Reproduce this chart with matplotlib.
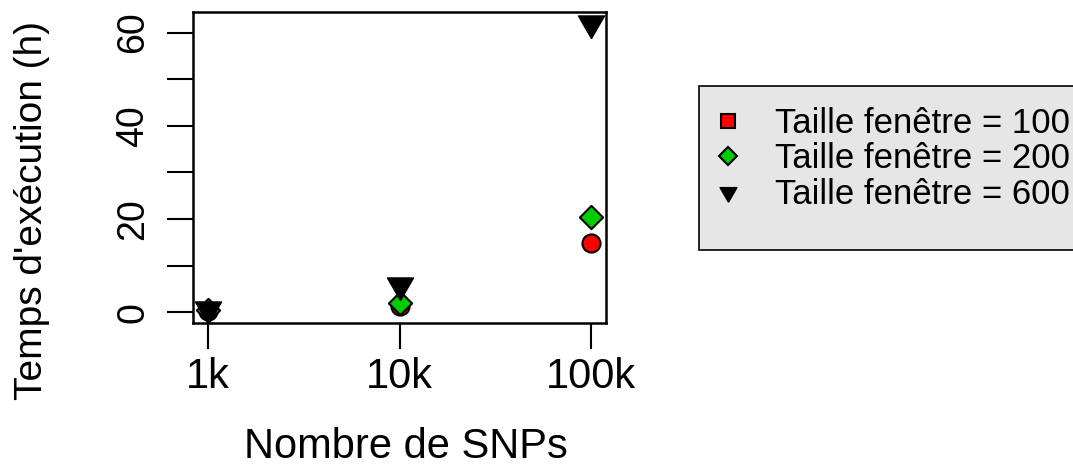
import matplotlib
matplotlib.use('Agg')

import numpy as np
import matplotlib.pyplot as plt
from matplotlib.lines import Line2D
from matplotlib.patches import Rectangle

plt.rcParams['font.family'] = ['Liberation Sans', 'DejaVu Sans']

# Data
snps = [1000, 10000, 100000]
tick_labels = ["1k", "10k", "100k"]
t_100 = [0.2, 1.3, 14.9]
t_200 = [0.4, 2.0, 20.4]
t_600 = [0.6, 5.8, 62.0]
series_labels = ["Taille fenêtre = 100", "Taille fenêtre = 200", "Taille fenêtre = 600"]

W, H = 1073, 468
fig = plt.figure(figsize=(W / 100, H / 100), dpi=100)
ax_l, ax_r, ax_t, ax_b = 193, 606, 11.7, 322.7
ax = fig.add_axes([ax_l / W, 1 - ax_b / H, (ax_r - ax_l) / W, (ax_b - ax_t) / H])

# down triangle centred like R's pch 25 (circumcentre)
tri_down = [(0, -1), (-0.866, 0.5), (0.866, 0.5), (0, -1)]

ax.scatter(snps, t_100, marker='o', s=170, c='#ff0000', edgecolors='black', linewidths=1.5, zorder=3)
ax.scatter(snps, t_200, marker='D', s=140, c='#00cd00', edgecolors='black', linewidths=1.5, zorder=4)
ax.scatter(snps, t_600, marker=tri_down, s=470, c='black', edgecolors='black', linewidths=1.0, zorder=5)

# R style 4% axis extension
ax.set_xscale('log')
lx = np.log10(snps)
px = 0.04 * (lx.max() - lx.min())
ax.set_xlim(10 ** (lx.min() - px), 10 ** (lx.max() + px))
all_y = np.array(t_100 + t_200 + t_600)
py = 0.04 * (all_y.max() - all_y.min())
ax.set_ylim(all_y.min() - py, all_y.max() + py)

ax.set_xticks(snps)
ax.set_xticklabels(tick_labels)
ax.xaxis.set_minor_locator(plt.NullLocator())
ax.set_yticks([0, 20, 40, 60])
ax.set_yticks([10, 30, 50], minor=True)
ax.tick_params(axis='both', which='both', direction='out', length=18.5, width=1.5, color='black')
ax.tick_params(axis='x', labelsize=30, pad=6.5)
ax.tick_params(axis='y', labelsize=27, pad=11.5, labelrotation=90)
for lab in ax.get_yticklabels():
    lab.set_va('center')

for sp in ax.spines.values():
    sp.set_linewidth(1.8)

ax.set_xlabel("Nombre de SNPs", fontsize=30)
ax.set_ylabel("Temps d'exécution (h)", fontsize=28)
ax.xaxis.set_label_coords((406 - ax_l) / (ax_r - ax_l), (ax_b - 427) / (ax_b - ax_t))
ax.yaxis.set_label_coords((50 - ax_l) / (ax_r - ax_l), (ax_b - 210) / (ax_b - ax_t))

# legend box (runs past the right edge like the original)
fig.patches.append(Rectangle((699 / W, 1 - 250 / H), 400 / W, (250 - 86) / H,
                             transform=fig.transFigure, facecolor='#e6e6e6',
                             edgecolor='black', linewidth=1.2, zorder=0))

handles = [
    Line2D([], [], ls='none', marker='s', markersize=9.5, markerfacecolor='#ff0000', markeredgecolor='black', markeredgewidth=1.5),
    Line2D([], [], ls='none', marker='D', markersize=9.5, markerfacecolor='#00cd00', markeredgecolor='black', markeredgewidth=1.5),
    Line2D([], [], ls='none', marker=tri_down, markersize=14, markerfacecolor='black', markeredgecolor='black'),
]
leg = fig.legend(handles, series_labels, loc='upper left', bbox_to_anchor=(711 / W, 1 - 107 / H),
                 fontsize=25, frameon=False, borderpad=0, handlelength=0.98, handletextpad=0.85,
                 labelspacing=0.07, borderaxespad=0)

fig.savefig("out.png", dpi=100)
